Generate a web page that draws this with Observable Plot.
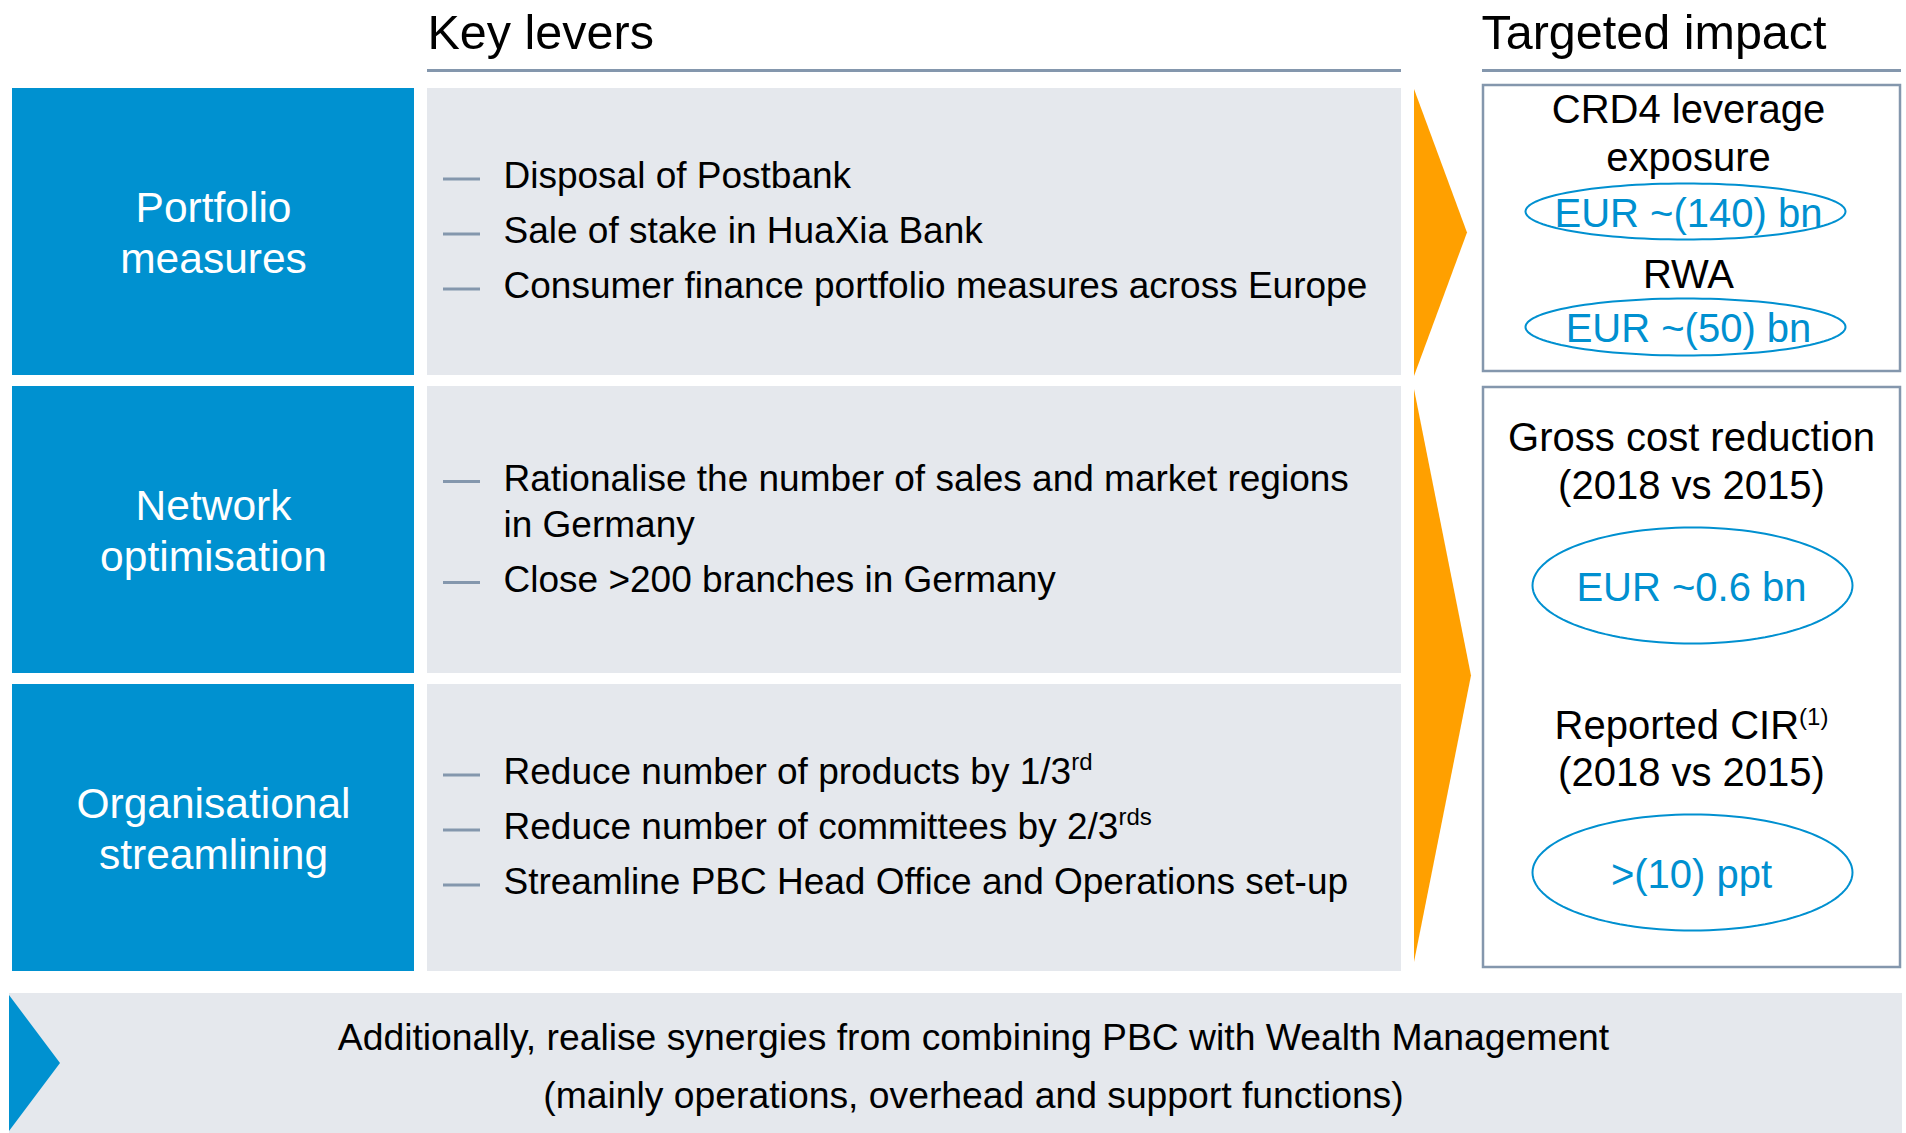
<!DOCTYPE html>
<html>
<head>
<meta charset="utf-8">
<script src="https://cdn.jsdelivr.net/npm/d3@7"></script>
<script src="https://cdn.jsdelivr.net/npm/@observablehq/plot@0.6"></script>
<style>
  html, body { margin: 0; padding: 0; background: #ffffff; }
  #chart svg { display: block; }
</style>
</head>
<body>
<div id="chart"></div>
<script>
// ---------------- DATA (text content only) ----------------
const headers = ["Key levers", "Targeted impact"];
const categories = [
  ["Portfolio", "measures"],
  ["Network", "optimisation"],
  ["Organisational", "streamlining"]
];
const levers = [
  [["Disposal of Postbank"], ["Sale of stake in HuaXia Bank"], ["Consumer finance portfolio measures across Europe"]],
  [["Rationalise the number of sales and market regions", "in Germany"], ["Close >200 branches in Germany"]],
  [["Reduce number of products by 1/3^rd"], ["Reduce number of committees by 2/3^rds"], ["Streamline PBC Head Office and Operations set-up"]]
];
const impactLabels = [
  ["CRD4 leverage", "exposure"],
  ["RWA"],
  ["Gross cost reduction", "(2018 vs 2015)"],
  ["Reported CIR^(1)", "(2018 vs 2015)"]
];
const impactValues = ["EUR ~(140) bn", "EUR ~(50) bn", "EUR ~0.6 bn", ">(10) ppt"];
const bannerLines = [
  "Additionally, realise synergies from combining PBC with Wealth Management",
  "(mainly operations, overhead and support functions)"
];

// ---------------- LAYOUT ----------------
const W = 1906, H = 1133;
const FONT = "'Liberation Sans', Arial, Helvetica, sans-serif";
const C = {
  blue: "#0091d0", gray: "#e5e8ed", orange: "#ffa000",
  line: "#8497ad", text: "#000000", valueBlue: "#0090d0"
};
const L = {
  rowTop: [88, 386, 684], rowH: 287,
  catX: [12, 414], catCx: 213, catLine: 50.5, catFont: 42.5,
  leverX: [427, 1401],
  headRuleY: 70, headBase: 48, headFont: 48.5,
  headX: [427, 1481], headRuleX: [[427, 1401], [1482, 1901]],
  dashX: [443, 480], textX: 503, lineStep: 46, itemGap: 9, blockOffset: 11, bodyFont: 37,
  impactX: [1483, 1900], impactFont: 40,
  impactBoxes: [[85, 371], [387, 967]],
  impactGroup: [0, 0, 1, 1],
  impactTextCx: [1688, 1691], impactEllCx: [1685, 1692],
  impactLabelBase: [[122, 170], [287], [450, 498], [738, 785]],
  ellCy: [211, 326.5, 585, 872], ellRy: [28, 28.5, 58, 58], ellRx: 160,
  arrows: [{x0: 1414, tip: 1467, top: 89, bottom: 376}, {x0: 1414, tip: 1471, top: 389, bottom: 962}],
  banner: {x1: 9, x2: 1902, y1: 993, y2: 1133, chevX0: 9, chevTip: 60, chevTop: 995, chevBottom: 1131, cx: 973, base: [1049, 1107], font: 37.3}
};

// ---------------- DERIVED TABLES ----------------
const rows = categories.map((c, i) => ({
  i, y1: L.rowTop[i], y2: L.rowTop[i] + L.rowH, cy: L.rowTop[i] + L.rowH / 2
}));
const catRects = rows.map(r => ({x1: L.catX[0], x2: L.catX[1], y1: r.y1, y2: r.y2}));
const leverRects = rows.map(r => ({x1: L.leverX[0], x2: L.leverX[1], y1: r.y1, y2: r.y2}));
const catText = rows.flatMap((r, i) => categories[i].map((t, j) => ({
  text: t, x: L.catCx, y: r.cy - 10 + j * L.catLine
})));

const leverText = [], dashes = [];
levers.forEach((items, i) => {
  const pos = [];
  let y = 0;
  items.forEach((lines, k) => {
    if (k > 0) y += L.lineStep + L.itemGap;
    lines.forEach((t, m) => {
      if (m > 0) y += L.lineStep;
      pos.push({text: t, y, first: m === 0});
    });
  });
  const start = rows[i].cy + L.blockOffset - y / 2;
  pos.forEach(p => {
    leverText.push({text: p.text, x: L.textX, y: start + p.y});
    if (p.first) dashes.push({y: start + p.y - 9, x1: L.dashX[0], x2: L.dashX[1]});
  });
});

const headText = headers.map((h, i) => ({text: h, x: L.headX[i], y: L.headBase}));
const headRules = headers.map((h, i) => ({y: L.headRuleY, x1: L.headRuleX[i][0], x2: L.headRuleX[i][1]}));

const impactRects = L.impactBoxes.map(b => ({x1: L.impactX[0], x2: L.impactX[1], y1: b[0], y2: b[1]}));
const impactLabelText = impactLabels.flatMap((lines, i) => lines.map((t, j) => ({
  text: t, x: L.impactTextCx[L.impactGroup[i]], y: L.impactLabelBase[i][j]
})));
const impactValueText = impactValues.map((v, i) => ({
  text: v, x: L.impactTextCx[L.impactGroup[i]], y: L.ellCy[i] + 15
}));
const ellipsePts = impactValues.flatMap((v, i) => d3.range(0, 121).map(k => {
  const a = (k / 120) * 2 * Math.PI;
  return {id: i, x: L.impactEllCx[L.impactGroup[i]] + L.ellRx * Math.cos(a), y: L.ellCy[i] + L.ellRy[i] * Math.sin(a)};
}));

const arrowPts = L.arrows.flatMap((a, i) => [
  {id: i, x: a.x0, y1: a.top, y2: a.bottom},
  {id: i, x: a.tip, y1: (a.top + a.bottom) / 2, y2: (a.top + a.bottom) / 2}
]);
const B = L.banner;
const bannerRect = [{x1: B.x1, x2: B.x2, y1: B.y1, y2: B.y2}];
const chevron = [
  {x: B.chevX0, y1: B.chevTop, y2: B.chevBottom},
  {x: B.chevTip, y1: (B.chevTop + B.chevBottom) / 2, y2: (B.chevTop + B.chevBottom) / 2}
];
const bannerText = bannerLines.map((t, i) => ({text: t, x: B.cx, y: B.base[i]}));

const txt = (data, o) => Plot.text(data, Object.assign({
  x: "x", y: "y", text: "text", lineAnchor: "bottom", fontFamily: FONT, fontSize: L.bodyFont, fill: C.text
}, o));

// ---------------- PLOT ----------------
const chart = Plot.plot({
  width: W, height: H,
  margin: 0, marginTop: 0, marginRight: 0, marginBottom: 0, marginLeft: 0,
  x: {domain: [0, W], range: [0, W], axis: null},
  y: {domain: [0, H], range: [0, H], axis: null},
  style: {fontFamily: FONT, background: "#ffffff", overflow: "visible"},
  marks: [
    Plot.rect(catRects, {x1: "x1", x2: "x2", y1: "y1", y2: "y2", fill: C.blue}),
    Plot.rect(leverRects, {x1: "x1", x2: "x2", y1: "y1", y2: "y2", fill: C.gray}),
    Plot.rect(bannerRect, {x1: "x1", x2: "x2", y1: "y1", y2: "y2", fill: C.gray}),
    Plot.areaY(chevron, {x: "x", y1: "y1", y2: "y2", fill: C.blue, curve: "linear"}),
    Plot.areaY(arrowPts, {x: "x", y1: "y1", y2: "y2", z: "id", fill: C.orange, curve: "linear"}),
    Plot.rect(impactRects, {x1: "x1", x2: "x2", y1: "y1", y2: "y2", fill: "#ffffff", stroke: C.line, strokeWidth: 2.5}),
    Plot.ruleY(headRules, {y: "y", x1: "x1", x2: "x2", stroke: C.line, strokeWidth: 3}),
    Plot.ruleY(dashes, {y: "y", x1: "x1", x2: "x2", stroke: C.line, strokeWidth: 3}),
    Plot.line(ellipsePts, {x: "x", y: "y", z: "id", stroke: C.valueBlue, strokeWidth: 2, curve: "linear-closed"}),
    txt(headText, {fontSize: L.headFont, textAnchor: "start"}),
    txt(catText, {fontSize: L.catFont, textAnchor: "middle", fill: "#ffffff"}),
    txt(leverText, {textAnchor: "start"}),
    txt(impactLabelText, {fontSize: L.impactFont, textAnchor: "middle"}),
    txt(impactValueText, {fontSize: L.impactFont, textAnchor: "middle", fill: C.valueBlue}),
    txt(bannerText, {fontSize: B.font, textAnchor: "middle"})
  ]
});

// superscripts (marked with ^ in the data)
d3.select(chart).selectAll("text").each(function () {
  const t = this.textContent;
  if (t.includes("^")) {
    const [a, b] = t.split("^");
    const el = d3.select(this);
    el.text(a);
    el.append("tspan").attr("dy", "-14").attr("font-size", 24).text(b);
  }
});

document.getElementById("chart").appendChild(chart);
</script>
</body>
</html>
